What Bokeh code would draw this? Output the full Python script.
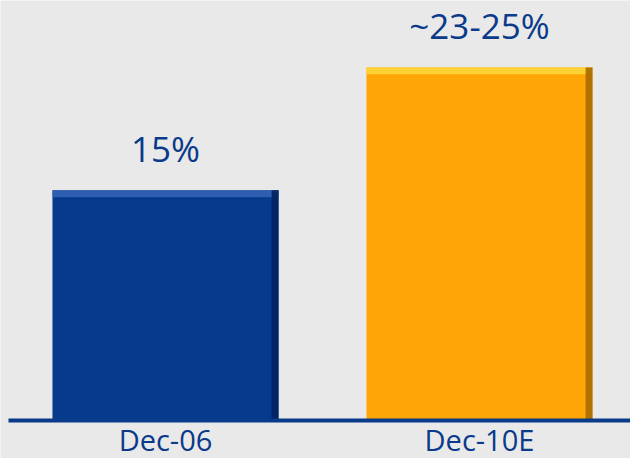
from bokeh.plotting import figure
from bokeh.models import Range1d, ColumnDataSource
from bokeh.embed import file_html
from bokeh.resources import INLINE
from bokeh.core.properties import value

# Data
categories = ["Dec-06", "Dec-10E"]
values = [15, 23]
value_labels = ["15%", "~23-25%"]
bar_colors = ["#063A8C", "#FEA508"]
highlight_colors = ["#3565B6", "#FFD93C"]
shadow_colors = ["#02235E", "#A86A00"]

positions = [i + 0.5 for i in range(len(categories))]
bar_w = 0.72

TEXT = "#0A3A8A"
BG = "#E9E9E9"

p = figure(width=630, height=458, output_backend="svg", toolbar_location=None,
           x_range=Range1d(-0.0255, 1.981), y_range=Range1d(-2.476, 27.36),
           min_border_left=0, min_border_right=0, min_border_top=0, min_border_bottom=0)
p.background_fill_color = BG
p.border_fill_color = BG
p.outline_line_color = None
p.grid.visible = False
p.axis.visible = False

src = ColumnDataSource(dict(x=positions, top=values, label=value_labels, color=bar_colors,
                            cat=categories, zero=[0] * len(values),
                            hi=highlight_colors, sh=shadow_colors,
                            hib=[v - 0.45 for v in values],
                            shx=[x + bar_w / 2 - 0.011 for x in positions]))

p.vbar(x="x", top="top", bottom=0, width=bar_w, fill_color="color", line_color=None, source=src)
p.vbar(x="x", top="top", bottom="hib", width=bar_w, fill_color="hi", line_color=None,
       fill_alpha=0.85, source=src)
p.vbar(x="shx", top="top", bottom=0, width=0.022, fill_color="sh", line_color=None,
       fill_alpha=0.9, source=src)

# baseline (x axis line)
p.segment(x0=0, x1=len(categories), y0=0, y1=0, line_color="#0A3A8A", line_width=4)

p.text(x="x", y="top", text="label", source=src, text_align="center",
       text_baseline="alphabetic", y_offset=-42, text_color=TEXT,
       text_font=value("Open Sans"), text_font_size="35px")

p.text(x="x", y="zero", text="cat", source=src, text_align="center",
       text_baseline="alphabetic", y_offset=19, text_color=TEXT,
       text_font=value("Open Sans"), text_font_size="29px")

open("out.html", "w").write(file_html(p, INLINE))
